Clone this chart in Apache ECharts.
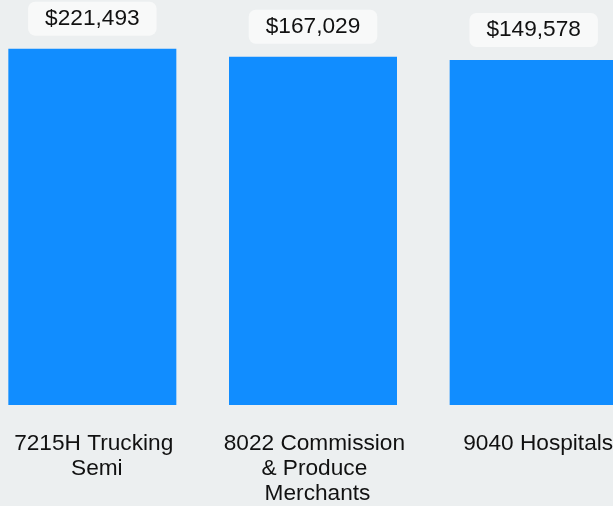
<!DOCTYPE html>
<html>
<head>
<meta charset="utf-8">
<script src="https://cdn.jsdelivr.net/npm/echarts@6/dist/echarts.min.js"></script>
<style>
  html, body { margin: 0; padding: 0; background: #ECEFF0; overflow: hidden; width: 613px; height: 506px; }
  #chart { position: absolute; left: -18px; top: 0; width: 662px; height: 506px; }
</style>
</head>
<body>
<div id="chart"></div>
<script>
// Top class codes by premium
const categories = ['7215H Trucking Semi', '8022 Commission & Produce Merchants', '9040 Hospitals'];
const premiums = [221493, 167029, 149578];

const chart = echarts.init(document.getElementById('chart'));

chart.setOption({
  backgroundColor: '#ECEFF0',
  animation: false,
  grid: { left: 0, right: 0, top: 5, bottom: 99, containLabel: false },
  xAxis: {
    type: 'category',
    data: categories,
    axisLine: { show: false },
    axisTick: { show: false },
    axisLabel: {
      interval: 0,
      margin: 26,
      width: 198,
      overflow: 'break',
      fontFamily: 'Liberation Sans, Arial, sans-serif',
      fontSize: 22.67,
      lineHeight: 25,
      color: '#111111',
      padding: [0, 0, 0, 9]
    }
  },
  yAxis: {
    type: 'log',
    logBase: 10,
    min: 1,
    max: 1000000,
    show: false,
    splitLine: { show: false }
  },
  series: [{
    type: 'bar',
    data: premiums,
    barWidth: 168,
    itemStyle: { color: '#118DFF' },
    label: {
      show: true,
      position: 'top',
      distance: 13,
      formatter: p => '$' + p.value.toLocaleString('en-US'),
      fontFamily: 'Liberation Sans, Arial, sans-serif',
      fontSize: 22.67,
      lineHeight: 22,
      color: '#111111',
      backgroundColor: '#F8F9F9',
      borderRadius: 7,
      padding: [6, 17, 6, 17]
    }
  }]
});
</script>
</body>
</html>
